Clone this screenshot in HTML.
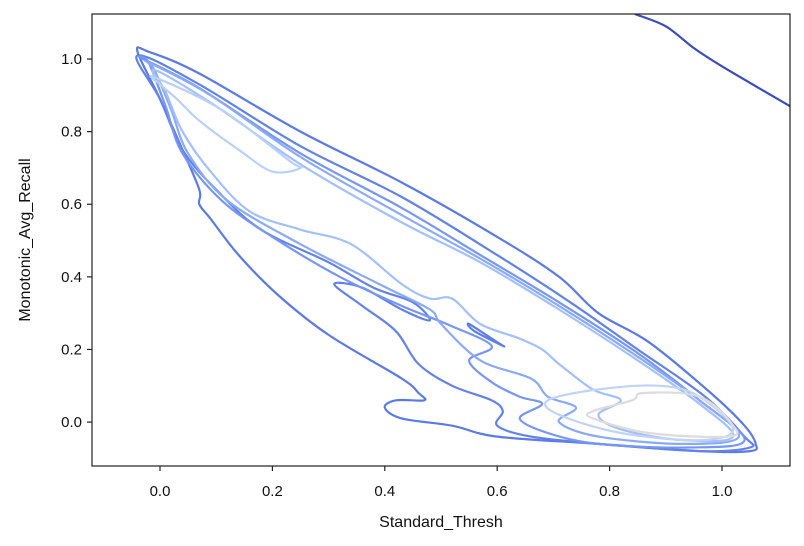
<!DOCTYPE html>
<html><head><meta charset="utf-8"><style>
html,body{margin:0;padding:0;background:#fff;}
svg{display:block;font-family:"Liberation Sans",sans-serif;}
</style></head><body>
<svg id="chart" width="804" height="546" viewBox="0 0 804 546">
<g id="contours"></g>
<g id="axes"></g>
</svg>
<script>
const xTicks=[0.0,0.2,0.4,0.6,0.8,1.0];
const yTicks=[0.0,0.2,0.4,0.6,0.8,1.0];
const xTickLabels=["0.0","0.2","0.4","0.6","0.8","1.0"];
const yTickLabels=["0.0","0.2","0.4","0.6","0.8","1.0"];
const levelColors=["#5b7ae5","#6282ea","#7596f4","#8aa9fb","#a3c0fe","#b9d0f9","#c0d4f5","#dcdcdc","#5e7de7"];
const level0=[[-0.04,1.02],[-0.02,1.02],[0.07,0.96],[0.25,0.80],[0.43,0.66],[0.60,0.51],[0.71,0.40],[0.78,0.30],[0.87,0.22],[0.98,0.08],[1.04,-0.01],[1.06,-0.06],[1.05,-0.08],[0.96,-0.08],[0.78,-0.06],[0.60,-0.04],[0.52,-0.01],[0.43,0.01],[0.40,0.04],[0.42,0.06],[0.47,0.06],[0.46,0.08],[0.43,0.12],[0.30,0.24],[0.21,0.35],[0.14,0.46],[0.09,0.56],[0.07,0.60],[0.07,0.64],[0.04,0.75],[0.0,0.89]];
const level1=[[-0.04,1.01],[0.07,0.93],[0.25,0.76],[0.43,0.62],[0.60,0.46],[0.73,0.33],[0.85,0.20],[0.97,0.07],[1.04,-0.04],[1.05,-0.07],[0.96,-0.08],[0.78,-0.06],[0.66,-0.04],[0.60,-0.01],[0.61,0.03],[0.59,0.06],[0.52,0.10],[0.46,0.16],[0.42,0.25],[0.36,0.32],[0.31,0.38],[0.36,0.37],[0.43,0.31],[0.48,0.28],[0.45,0.33],[0.38,0.37],[0.30,0.44],[0.18,0.53],[0.10,0.64],[0.04,0.75],[0.0,0.89]];
const level2=[[-0.03,1.00],[0.07,0.92],[0.25,0.74],[0.43,0.59],[0.57,0.46],[0.71,0.33],[0.85,0.19],[0.96,0.06],[1.04,-0.05],[0.94,-0.07],[0.78,-0.06],[0.69,-0.03],[0.64,0.01],[0.68,0.05],[0.64,0.07],[0.59,0.11],[0.55,0.17],[0.59,0.21],[0.51,0.27],[0.43,0.32],[0.32,0.40],[0.20,0.51],[0.11,0.61],[0.04,0.74],[0.01,0.87],[-0.02,0.99]];
const level3=[[-0.02,0.99],[0.09,0.90],[0.25,0.73],[0.43,0.57],[0.57,0.45],[0.71,0.32],[0.85,0.18],[0.96,0.06],[1.03,-0.04],[0.93,-0.06],[0.78,-0.04],[0.71,0.00],[0.74,0.04],[0.69,0.07],[0.66,0.12],[0.57,0.17],[0.50,0.27],[0.48,0.31],[0.39,0.38],[0.25,0.49],[0.12,0.61],[0.05,0.74],[0.02,0.86],[-0.01,0.97]];
const level4=[[-0.01,0.97],[0.09,0.88],[0.25,0.71],[0.43,0.55],[0.57,0.44],[0.71,0.31],[0.85,0.17],[0.96,0.05],[1.02,-0.04],[0.93,-0.05],[0.82,-0.02],[0.78,0.02],[0.82,0.06],[0.77,0.09],[0.71,0.16],[0.68,0.20],[0.64,0.23],[0.57,0.27],[0.52,0.34],[0.48,0.34],[0.43,0.38],[0.34,0.49],[0.25,0.53],[0.16,0.58],[0.09,0.69],[0.04,0.80],[0.01,0.91]];
const level5=[[-0.01,0.95],[0.11,0.86],[0.23,0.72],[0.25,0.70],[0.20,0.69],[0.14,0.75],[0.07,0.83],[0.03,0.89],[0.0,0.93]];
const level6=[[0.69,0.06],[0.78,0.09],[0.89,0.10],[0.96,0.07],[1.02,-0.02],[0.96,-0.05],[0.82,-0.03],[0.71,0.02]];
const level7=[[0.77,0.03],[0.84,0.06],[0.86,0.08],[0.96,0.07],[1.02,-0.01],[1.01,-0.04],[0.87,-0.03],[0.77,0.01]];
const islandA=[[0.55,0.27],[0.60,0.22],[0.61,0.21],[0.56,0.25]];
const edgeLine=[[0.845,1.124],[0.90,1.09],[0.95,1.03],[1.0,0.98],[1.121,0.87]];

const X0=92,X1=790,Y0=14,Y1=466;
const xMin=-0.121,xMax=1.121,yMin=-0.121,yMax=1.124;
function sx(v){return X0+(v-xMin)/(xMax-xMin)*(X1-X0);}
function sy(v){return Y1-(v-yMin)/(yMax-yMin)*(Y1-Y0);}
const NS="http://www.w3.org/2000/svg";
function smoothPath(pts,closed){
  const p=pts.map(d=>[sx(d[0]),sy(d[1])]);
  const n=p.length;let s="M"+p[0][0].toFixed(1)+","+p[0][1].toFixed(1);
  const segs=closed?n:n-1;
  for(let i=0;i<segs;i++){
    const g=k=>closed?p[(k+n)%n]:p[Math.max(0,Math.min(n-1,k))];
    const a=g(i-1),b=g(i),c=g(i+1),d=g(i+2);
    const c1=[b[0]+(c[0]-a[0])/6,b[1]+(c[1]-a[1])/6],c2=[c[0]-(d[0]-b[0])/6,c[1]-(d[1]-b[1])/6];
    s+="C"+c1[0].toFixed(1)+","+c1[1].toFixed(1)+" "+c2[0].toFixed(1)+","+c2[1].toFixed(1)+" "+c[0].toFixed(1)+","+c[1].toFixed(1);
  }
  return s+(closed?"Z":"");
}
const cg=document.getElementById("contours");
const levels=[level0,level1,level2,level3,level4,level5,level6,level7,islandA];
levels.forEach((lv,i)=>{
  const el=document.createElementNS(NS,"path");
  el.setAttribute("d",smoothPath(lv,true));
  el.setAttribute("fill","none");el.setAttribute("stroke",levelColors[i]);el.setAttribute("stroke-width","2.2");
  
  
  cg.appendChild(el);
});
const cp=document.createElementNS(NS,"clipPath");cp.setAttribute("id","clip");
const cr=document.createElementNS(NS,"rect");cr.setAttribute("x",X0);cr.setAttribute("y",Y0);cr.setAttribute("width",X1-X0);cr.setAttribute("height",Y1-Y0);
cp.appendChild(cr);document.getElementById("chart").appendChild(cp);
const edge=document.createElementNS(NS,"path");
edge.setAttribute("d",smoothPath(edgeLine,false));edge.setAttribute("fill","none");edge.setAttribute("stroke","#3b4cc0");edge.setAttribute("stroke-width","2.2");edge.setAttribute("clip-path","url(#clip)");


cg.appendChild(edge);

const ag=document.getElementById("axes");
const frame=document.createElementNS(NS,"rect");
frame.setAttribute("x",X0);frame.setAttribute("y",Y0);frame.setAttribute("width",X1-X0);frame.setAttribute("height",Y1-Y0);
frame.setAttribute("fill","none");frame.setAttribute("stroke","#222");frame.setAttribute("stroke-width","1.2");


ag.appendChild(frame);
xTicks.forEach((v,i)=>{
  const t=document.createElementNS(NS,"line");
  t.setAttribute("x1",sx(v));t.setAttribute("x2",sx(v));t.setAttribute("y1",Y1);t.setAttribute("y2",Y1+5);t.setAttribute("stroke","#222");t.setAttribute("stroke-width","1.2");
  
  
  ag.appendChild(t);
  const l=document.createElementNS(NS,"text");
  l.setAttribute("x",sx(v));l.setAttribute("y",Y1+30);l.setAttribute("text-anchor","middle");l.setAttribute("font-size","15");l.setAttribute("fill","#111");
  l.textContent=xTickLabels[i];
  
  
  ag.appendChild(l);
});
yTicks.forEach((v,i)=>{
  const t=document.createElementNS(NS,"line");
  t.setAttribute("x1",X0-5);t.setAttribute("x2",X0);t.setAttribute("y1",sy(v));t.setAttribute("y2",sy(v));t.setAttribute("stroke","#222");t.setAttribute("stroke-width","1.2");
  
  
  ag.appendChild(t);
  const l=document.createElementNS(NS,"text");
  l.setAttribute("x",X0-10);l.setAttribute("y",sy(v)+5);l.setAttribute("text-anchor","end");l.setAttribute("font-size","15");l.setAttribute("fill","#111");
  l.textContent=yTickLabels[i];
  
  
  ag.appendChild(l);
});
const xt=document.createElementNS(NS,"text");
xt.setAttribute("x",(X0+X1)/2);xt.setAttribute("y",527);xt.setAttribute("text-anchor","middle");xt.setAttribute("font-size","16");xt.setAttribute("fill","#111");
xt.textContent="Standard_Thresh";


ag.appendChild(xt);
const yt=document.createElementNS(NS,"text");
yt.setAttribute("transform","translate(30,"+((Y0+Y1)/2)+") rotate(-90)");yt.setAttribute("text-anchor","middle");yt.setAttribute("font-size","16");yt.setAttribute("fill","#111");
yt.textContent="Monotonic_Avg_Recall";


ag.appendChild(yt);
</script>
</body></html>
